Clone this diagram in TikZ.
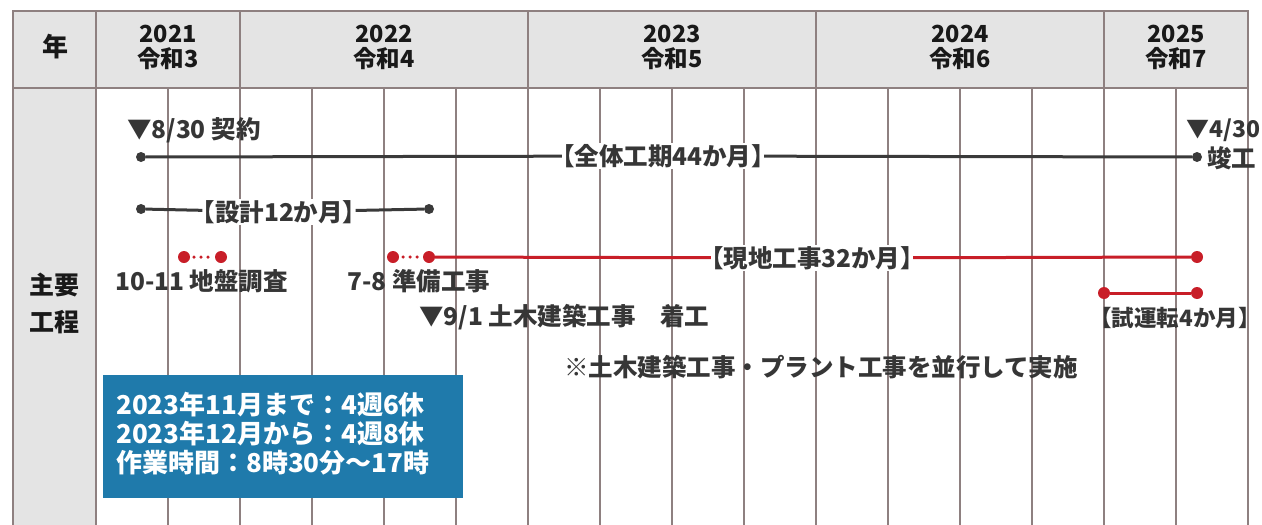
\documentclass[tikz,border=0pt]{standalone}
\usepackage{fontspec}
\setmainfont{Noto Sans CJK JP}
\definecolor{gridc}{HTML}{8E8080}
\definecolor{hdrbg}{HTML}{E4E4E4}
\definecolor{txt}{HTML}{363636}
\definecolor{blk}{HTML}{3A3A3A}
\definecolor{red1}{HTML}{C81E28}
\definecolor{boxc}{HTML}{1F7AAB}
\begin{document}
\begin{tikzpicture}[x=1pt,y=-1pt,
  grid/.style={draw=gridc, line width=1.6pt},
  lbl/.style={font=\bfseries\fontsize{24.5}{28}\selectfont, text=txt, inner sep=0pt},
  bar/.style={lbl, fill=white, inner xsep=-12pt, inner ysep=1pt},
  hdr/.style={font=\bfseries\fontsize{23.5}{25}\selectfont, text=black!90, inner sep=0pt, align=center},
  bdot/.style={circle, fill=blk, inner sep=0pt, minimum size=10pt},
  rdot/.style={circle, fill=red1, inner sep=0pt, minimum size=12pt},
  bline/.style={draw=blk, line width=3pt},
  rline/.style={draw=red1, line width=3pt},
  rdots/.style={draw=red1, line width=3.5pt, dash pattern=on 0pt off 7pt, line cap=round, shorten <=10pt, shorten >=10pt},
]
\useasboundingbox (0,0) rectangle (1262,525);
% backgrounds
\fill[hdrbg] (13,11) rectangle (1248,88);
\fill[hdrbg] (13,88) rectangle (96,525);
% grid
\foreach \x in {168,312,384,456,600,672,744,888,960,1032,1176}
  \draw[grid] (\x,88) -- (\x,525);
\foreach \x in {13,96,240,528,816,1104,1248}
  \draw[grid] (\x,11) -- (\x,525);
\draw[grid] (12.2,11) -- (1248.8,11);
\draw[grid] (13,88) -- (1248,88);
% header
\node[hdr, font=\bfseries\fontsize{26}{28}\selectfont] (nen) at (55,47) {年};
\node[hdr] (y21) at (168,47) {2021\\令和3};
\node[hdr] (y22) at (384,47) {2022\\令和4};
\node[hdr] (y23) at (672,47) {2023\\令和5};
\node[hdr] (y24) at (960,47) {2024\\令和6};
\node[hdr] (y25) at (1176,47) {2025\\令和7};
\node[hdr, font=\bfseries\fontsize{25}{28}\selectfont] (shu) at (55,285) {主要};
\node[hdr, font=\bfseries\fontsize{25}{28}\selectfont] (kou) at (55,322) {工程};
% overall
\node[lbl, anchor=west] (kei) at (127,130) {▼8/30 契約};
\node[bdot] (d1) at (141,157) {};
\node[bdot] (d2) at (1197,157) {};
\node[bar] (zen) at (663,156) {【全体工期44か月】};
\draw[bline] (d1) -- (zen);
\draw[bline] (zen) -- (d2);
\node[lbl, anchor=west, font=\bfseries\fontsize{23}{26}\selectfont] (end) at (1186,130) {▼4/30};
\node[lbl, anchor=west] (shun) at (1207,158) {竣工};
% design
\node[bdot] (s1) at (141,209) {};
\node[bdot] (s2) at (429,209) {};
\node[bar] (sek) at (279,212) {【設計12か月】};
\draw[bline] (s1) -- (sek);
\draw[bline] (sek) -- (s2);
% survey
\node[rdot] (g1) at (184,257) {};
\node[rdot] (g2) at (221,257) {};
\draw[rdots] (g1.center) -- (g2.center);
\node[lbl, anchor=west] (chi) at (115,281) {10-11 地盤調査};
% preparation
\node[rdot] (p1) at (393,257) {};
\node[rdot] (p2) at (429,257) {};
\draw[rdots] (p1.center) -- (p2.center);
\node[lbl, anchor=west] (jun) at (347,281) {7-8 準備工事};
% site works
\node[rdot] (p3) at (1197,257) {};
\node[bar] (gen) at (812,258) {【現地工事32か月】};
\draw[rline] (p2) -- (gen);
\draw[rline] (gen) -- (p3);
\node[lbl, anchor=west] (dob) at (419,317) {▼9/1 土木建築工事　着工};
% trial run
\node[rdot] (t1) at (1104,293) {};
\node[rdot] (t2) at (1197,293) {};
\draw[rline] (t1) -- (t2);
\node[lbl, font=\bfseries\fontsize{22.5}{26}\selectfont] (shi) at (1175,318) {【試運転4か月】};
% note
\node[lbl, anchor=west] (note) at (564,367) {※土木建築工事・プラント工事を並行して実施};
% info box
\node[fill=boxc, minimum width=360pt, minimum height=123pt, anchor=north west, inner sep=0pt] (box) at (103,375) {};
\node[anchor=west, inner sep=0pt, align=left, text=white, font=\bfseries\fontsize{26}{29}\selectfont] (info) at (116,434)
  {2023年11月まで：4週6休\\2023年12月から：4週8休\\作業時間：8時30分～17時};
\end{tikzpicture}
\end{document}
